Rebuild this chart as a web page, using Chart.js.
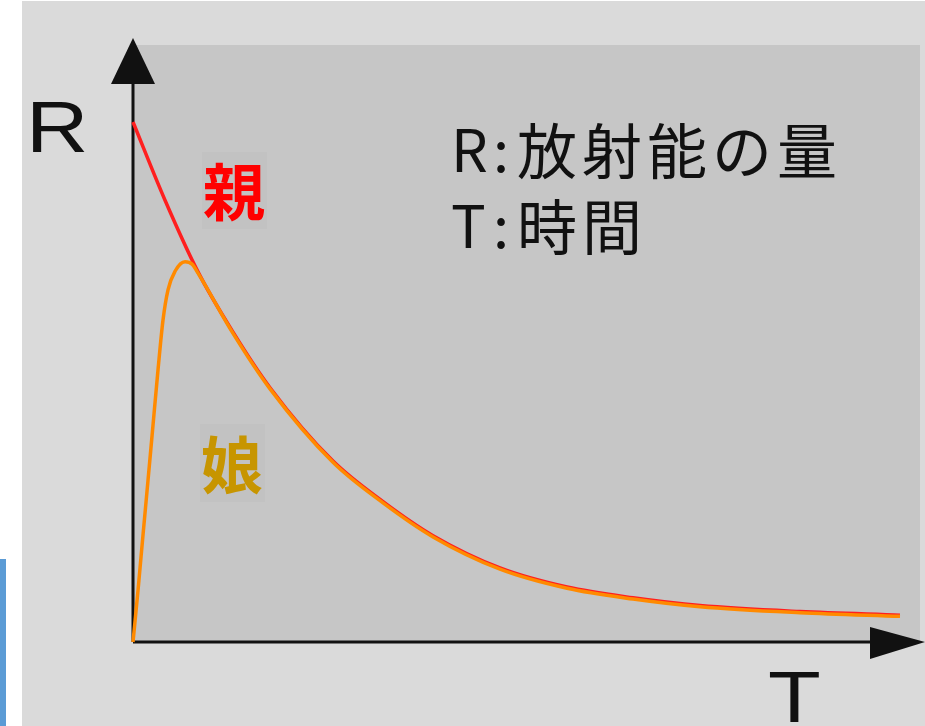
<!DOCTYPE html>
<html>
<head>
<meta charset="utf-8">
<script src="https://cdn.jsdelivr.net/npm/chart.js@4"></script>
<style>
  html, body { margin: 0; padding: 0; background: #ffffff; }
  #chart { display: block; }
</style>
</head>
<body>
<canvas id="chart" width="925" height="726"></canvas>
<script>
// time axis (T) and activity (R), 0..100 units
const T_PARENT = [0, 4.07, 8.26, 12.71, 17.41, 25.41, 31.77, 38.12, 46.63, 55.15, 63.53, 72.05, 84.75, 97.46];
const R_PARENT = [87.1, 74.0, 62.0, 51.9, 42.6, 30.3, 23.5, 17.8, 12.4, 9.2, 7.4, 6.1, 5.1, 4.5];

const T_DAUGHTER = [0, 0.64, 1.27, 1.91, 2.54, 3.18, 3.81, 4.45, 5.34, 6.61, 7.50, 8.26, 12.71, 17.41, 25.41, 31.77, 38.12, 46.63, 55.15, 63.53, 72.05, 84.75, 97.46];
const R_DAUGHTER = [0, 8.7, 17.9, 27.1, 36.3, 45.6, 53.9, 59.0, 62.1, 63.7, 63.3, 61.8, 51.7, 42.4, 30.1, 23.3, 17.6, 12.2, 9.0, 7.2, 5.9, 4.9, 4.3];

const AXIS_LABELS = { y: 'R', x: 'T' };
const KEY_LINES = [['R', '放射能の量'], ['T', '時間']];
const CURVE_LABELS = { parent: '親', daughter: '娘' };

const toXY = (xs, ys) => xs.map((x, i) => ({ x: x, y: ys[i] }));

// background panels, axes with arrows, and all the text
const decor = {
    id: 'decor',
    beforeDraw(chart) {
        const ctx = chart.ctx;
        const a = chart.chartArea;
        ctx.save();
        ctx.fillStyle = '#ffffff';
        ctx.fillRect(0, 0, chart.width, chart.height);
        ctx.fillStyle = '#dadada';
        ctx.fillRect(22, 1, chart.width - 22, chart.height - 1);
        ctx.fillStyle = '#5b9bd5';
        ctx.fillRect(0, 559, 6, chart.height - 559);
        ctx.fillStyle = '#c6c6c6';
        ctx.fillRect(a.left, a.top, a.right - a.left, a.bottom - a.top);

        // label boxes behind the kanji
        ctx.fillStyle = '#c2c2c2';
        ctx.fillRect(202, 152, 65, 77);
        ctx.fillRect(200, 424, 65, 78);

        // axes
        ctx.strokeStyle = '#111111';
        ctx.fillStyle = '#111111';
        ctx.lineWidth = 3;
        ctx.beginPath();
        ctx.moveTo(a.left, a.bottom);
        ctx.lineTo(a.left, 80);
        ctx.moveTo(a.left, a.bottom);
        ctx.lineTo(875, a.bottom);
        ctx.stroke();
        ctx.beginPath();
        ctx.moveTo(a.left, 38);
        ctx.lineTo(a.left - 22, 84);
        ctx.lineTo(a.left + 22, 84);
        ctx.closePath();
        ctx.fill();
        ctx.beginPath();
        ctx.moveTo(925, a.bottom);
        ctx.lineTo(870, a.bottom - 15);
        ctx.lineTo(870, a.bottom + 17);
        ctx.closePath();
        ctx.fill();
        ctx.restore();
    },
    afterDraw(chart) {
        const ctx = chart.ctx;
        ctx.save();
        ctx.fillStyle = '#111111';
        ctx.textAlign = 'left';
        ctx.textBaseline = 'alphabetic';

        // axis letters
        ctx.font = '72px "Liberation Sans", Arial, sans-serif';
        ctx.save();
        ctx.translate(26, 152);
        ctx.scale(1.2, 1);
        ctx.fillText(AXIS_LABELS.y, 0, 0);
        ctx.restore();
        ctx.save();
        ctx.translate(768, 722);
        ctx.scale(1.2, 1);
        ctx.fillText(AXIS_LABELS.x, 0, 0);
        ctx.restore();

        // key text
        const baselines = [172, 248];
        KEY_LINES.forEach((line, i) => {
            const y = baselines[i];
            ctx.font = '58px "Noto Sans CJK JP", sans-serif';
            ctx.textAlign = 'left';
            ctx.fillText(line[0], 451, y);
            ctx.textAlign = 'center';
            ctx.fillText(':', 501, y);
            ctx.textAlign = 'left';
            ctx.font = '60px "Noto Sans CJK JP", sans-serif';
            ctx.letterSpacing = '5px';
            ctx.fillText(line[1], 517, y + 2);
            ctx.letterSpacing = '0px';
        });

        // curve labels
        ctx.textAlign = 'center';
        ctx.textBaseline = 'middle';
        ctx.font = 'bold 62px "Noto Sans CJK JP", sans-serif';
        ctx.fillStyle = '#ff0000';
        ctx.fillText(CURVE_LABELS.parent, 234, 192);
        ctx.fillStyle = '#c79500';
        ctx.fillText(CURVE_LABELS.daughter, 232, 465);
        ctx.restore();
    }
};

new Chart(document.getElementById('chart').getContext('2d'), {
    type: 'line',
    data: {
        datasets: [{
            label: CURVE_LABELS.daughter,
            data: toXY(T_DAUGHTER, R_DAUGHTER),
            borderColor: '#ff8a00',
            borderWidth: 3.5,
            pointRadius: 0,
            cubicInterpolationMode: 'monotone',
            clip: false
        }, {
            label: CURVE_LABELS.parent,
            data: toXY(T_PARENT, R_PARENT),
            borderColor: '#ff1f1f',
            borderWidth: 3.5,
            pointRadius: 0,
            cubicInterpolationMode: 'monotone',
            clip: false
        }]
    },
    options: {
        responsive: false,
        animation: false,
        events: [],
        layout: { padding: { left: 133, right: 5, top: 45, bottom: 84 } },
        plugins: {
            legend: { display: false },
            tooltip: { enabled: false },
            title: { display: false }
        },
        scales: {
            x: { type: 'linear', min: 0, max: 100, display: false },
            y: { type: 'linear', min: 0, max: 100, display: false }
        }
    },
    plugins: [decor]
});
</script>
</body>
</html>
